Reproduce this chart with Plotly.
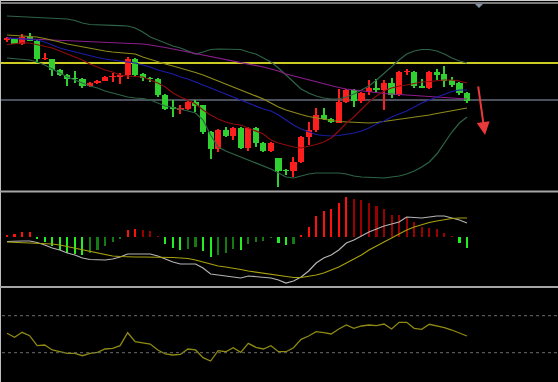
import plotly.graph_objects as go

# ---------------- data ----------------
idx = list(range(1, 63))

opens = [160, 161, 156, 163, 159, 141, 141, 130, 125, 121.5,
         121, 114, 117, 119, 123, 123, 125, 141, 126, 122,
         121, 105, 92, 90, 91, 98, 95, 68, 51, 70,
         64, 72, 52, 72, 57, 49, 42, 29.5, 29, 38,
         63, 70, 85, 81, 77, 98, 110, 99, 108, 112,
         110, 117, 105, 128, 128, 114, 112, 128, 126, 120, 117, 107]
closes = [162, 156, 163, 159, 141, 142, 130, 125, 121, 121,
          114, 117, 119, 123, 124, 125, 141, 125, 122, 121,
          105, 91, 91.5, 92, 98, 94, 68, 51, 70, 64,
          72, 52, 72, 57, 49, 57, 29, 29, 38, 63,
          70, 85, 81, 78, 98, 110, 99, 107, 112, 110,
          117, 105, 128, 129, 114, 112, 128, 125, 119, 115, 107, 99]
highs = [163, 162, 166, 167, 160, 147, 141, 131, 126, 129,
         122, 118, 120, 124, 127, 127, 143, 142, 127, 123,
         122, 106, 100, 95, 99, 100, 95, 69, 71, 73,
         73, 73, 73, 73, 58, 58, 42, 31, 43, 64,
         78, 92, 92, 82, 111, 111, 111, 108, 120, 121,
         120, 122, 129, 131, 129, 121, 129, 131, 134, 123, 118, 108]
lows = [158, 156, 155, 159, 137, 140, 124, 124, 114, 117,
        112, 113, 116, 119, 118, 116, 121, 124, 119, 118,
        103, 90, 83, 86, 90, 88, 66, 41, 48, 63,
        60, 51, 49, 53, 48, 48, 13, 25, 23, 37,
        55, 68, 80, 77, 77, 97, 93, 97, 105, 108,
        90, 102, 104, 125, 112, 112, 111, 120, 113, 113, 105, 97]

boll_upper = [184, 183.7, 183.4, 183, 182.7, 182.4, 182, 181.7, 181, 179.5,
              177, 175.5, 175, 175, 174.7, 174.4, 174, 172, 168, 163,
              160, 157, 154, 152, 149, 146, 148, 150.5, 151, 151,
              151, 150.5, 148, 146, 142, 138, 132, 125, 117, 111,
              107, 104, 102, 101, 101, 103, 106, 110, 114, 120,
              127, 134, 140, 146, 149, 150.5, 150.5, 149, 146, 142, 139, 137]
boll_lower = [142, 141.5, 141, 140, 138, 135, 131, 127, 123, 120,
              117, 114, 112, 109, 107, 105, 103, 102, 101.5, 100,
              97, 94, 92.5, 91, 89, 87, 80, 65, 53, 49,
              46, 43, 40, 37, 34.5, 31, 27, 23, 22, 24,
              26, 27, 27, 27, 27, 26, 24, 23, 22.5, 22,
              22, 23, 24, 26, 29, 33, 38, 46, 57, 68, 77, 83]
ma_blue = [162, 161.5, 161, 160.5, 160, 158, 155, 152, 150, 148,
           146, 144, 142.5, 141, 140, 139, 138, 137, 135, 133,
           130, 128, 126, 123, 121, 118, 115, 112, 109, 106,
           103, 100, 97, 94, 91, 89, 85, 80, 75, 71,
           68, 65.5, 64.5, 64, 64.5, 65.5, 67, 69, 72, 76,
           79, 83, 86, 89, 93, 97, 100, 103, 106, 108.5, 110, 110]
ma_red = [155.5, 156.5, 157, 157, 155.5, 154, 152, 149, 146, 143,
          140, 136, 133, 130, 128, 125, 124, 123.5, 123, 120,
          117, 113, 107, 103, 100, 96, 90, 85, 81, 78,
          76, 75, 72, 69, 66, 60, 57, 55, 53, 52,
          53.5, 55.5, 58, 62, 69, 77, 83, 91, 98, 104,
          109, 112, 114, 115, 116.5, 118, 118.5, 119.5, 120, 120, 119, 117]
ma_purple = [162, 161.7, 161.4, 161, 160.7, 160.4, 160, 159.7, 159.4, 159,
             158.7, 158.4, 158, 157.7, 157.4, 157, 156.7, 156.4, 156, 155,
             154, 152.5, 151, 149.5, 148, 147, 145.5, 144, 142.5, 141,
             139.5, 138, 136.5, 135, 133, 131, 129, 126, 124, 122,
             120, 118, 116, 114, 112.5, 111, 110, 109, 108, 107,
             106.5, 106, 105.5, 105, 104.5, 104, 103.5, 103, 102.5, 102, 101.5, 101]
ma_olive = [165, 164.5, 164, 163.5, 163, 161.5, 160, 158, 156, 154.5,
            153, 151.5, 150, 149, 148, 147.5, 147, 146, 143, 140.5,
            138, 136, 134, 132, 130, 127.5, 125, 122, 119, 116,
            113, 110, 107, 104, 101, 97, 93, 90, 87.5, 85.5,
            83.5, 82, 80.5, 79.5, 78.5, 78, 77.5, 77, 77, 77.5,
            78.5, 79.5, 81, 82, 83, 84, 85, 86.5, 88, 89, 90.5, 92]

level_yellow = 137
level_gray = 100

macd_hist = [0.25, 0.3, 0.5, 0.53, -0.17, -0.47, -0.9, -1.3, -1.57, -1.67,
             -1.83, -1.57, -1.3, -0.9, -0.5, -0.17, 0.7, 0.77, 0.67, 0.57,
             0.07, -0.67, -1.07, -1.33, -1.17, -1.0, -1.43, -2.0, -1.83, -1.6,
             -1.17, -1.27, -0.67, -0.5, -0.43, -0.1, -0.6, -0.83, -0.67, 0.23,
             1.0, 2.07, 2.6, 2.83, 3.43, 4.0, 3.77, 3.67, 3.4, 3.1,
             2.83, 2.23, 2.17, 2.0, 1.5, 1.0, 0.93, 0.83, 0.43, 0.03, -0.57, -1.07]
macd_dif = [-0.45, -0.4, -0.4, -0.4, -0.55, -0.8, -1.1, -1.3, -1.6, -1.8,
            -2.1, -2.25, -2.3, -2.3, -2.2, -2.0, -1.7, -1.7, -1.7, -1.7,
            -1.9, -2.2, -2.5, -2.7, -2.7, -2.7, -3.1, -3.7, -3.8, -3.9,
            -4.0, -4.1, -3.9, -3.95, -4.0, -4.1, -4.3, -4.6, -4.4, -4.0,
            -3.4, -2.6, -2.1, -1.8, -1.3, -0.6, -0.3, 0.1, 0.5, 0.8,
            1.1, 1.3, 1.5, 2.0, 1.95, 1.9, 2.0, 2.1, 2.1, 1.9, 1.7, 1.4]
macd_dea = [-0.5, -0.53, -0.56, -0.6, -0.62, -0.65, -0.7, -0.8, -0.95, -1.1,
            -1.3, -1.45, -1.6, -1.75, -1.9, -1.95, -2.0, -2.0, -2.0, -2.0,
            -2.0, -2.0, -2.05, -2.1, -2.15, -2.3, -2.5, -2.7, -2.9, -3.0,
            -3.1, -3.25, -3.4, -3.5, -3.6, -3.7, -3.85, -3.95, -4.05, -4.05,
            -3.95, -3.8, -3.6, -3.3, -3.0, -2.6, -2.2, -1.8, -1.3, -0.9,
            -0.5, -0.1, 0.3, 0.7, 1.0, 1.25, 1.45, 1.6, 1.75, 1.85, 1.9, 1.9]

osc = [51.5, 45.0, 53.1, 47.6, 31.4, 32.5, 24.4, 21.6, 19.0, 19.0,
       15.1, 19.0, 20.6, 26.0, 27.1, 31.4, 52.4, 37.8, 35.7, 34.1,
       24.4, 17.9, 16.3, 17.4, 26.0, 24.4, 11.9, 6.5, 23.2, 21.6,
       28.1, 20.6, 35.2, 28.8, 26.0, 31.4, 21.6, 21.6, 28.1, 41.7,
       47.1, 54.1, 52.4, 50.3, 58.4, 64.9, 59.6, 63.3, 64.9, 63.8,
       66.5, 58.4, 69.3, 69.3, 59.6, 57.9, 66.1, 63.8, 60.5, 56.8, 52.4, 47.1]
osc_levels = [80, 20]

# ---------------- styling ----------------
UP = "#ff1e1e"
DOWN = "#30d030"
W, H = 558, 382


def py(p):
    return 1 - p / H


fig = go.Figure()

# bollinger / moving averages
for vals, col in [(boll_upper, "#2e6447"), (boll_lower, "#2e6447"),
                  (ma_purple, "#8c1d8c"), (ma_olive, "#8f8a1c"),
                  (ma_blue, "#1c1ca8"), (ma_red, "#8e0c0c")]:
    fig.add_trace(go.Scatter(x=idx, y=vals, mode="lines",
                             line=dict(color=col, width=1.2),
                             hoverinfo="skip", showlegend=False))

# candles
cols = [UP if c >= o else DOWN for o, c in zip(opens, closes)]
fig.add_trace(go.Bar(x=idx, base=lows, y=[h - l for h, l in zip(highs, lows)],
                     width=0.15, marker=dict(color=cols, line=dict(width=0)),
                     showlegend=False, hoverinfo="skip"))
fig.add_trace(go.Bar(x=idx, base=[min(o, c) for o, c in zip(opens, closes)],
                     y=[max(abs(c - o), 0.6) for o, c in zip(opens, closes)],
                     width=0.82, marker=dict(color=cols, line=dict(width=0)),
                     showlegend=False, hoverinfo="skip"))

# MACD histogram
hcols = []
for i, v in enumerate(macd_hist):
    prev = macd_hist[i - 1] if i > 0 else 0
    if v >= 0:
        hcols.append("#ff1010" if v >= prev else "#9a0000")
    else:
        hcols.append("#22ee22" if v <= prev else "#147a14")
fig.add_trace(go.Bar(x=idx, y=macd_hist, width=0.28, yaxis="y2",
                     marker=dict(color=hcols, line=dict(width=0)),
                     showlegend=False, hoverinfo="skip"))
fig.add_trace(go.Scatter(x=idx, y=macd_dif, yaxis="y2", mode="lines",
                         line=dict(color="#b4b4b4", width=1.2),
                         showlegend=False, hoverinfo="skip"))
fig.add_trace(go.Scatter(x=idx, y=macd_dea, yaxis="y2", mode="lines",
                         line=dict(color="#a8a010", width=1.2),
                         showlegend=False, hoverinfo="skip"))

# oscillator
fig.add_trace(go.Scatter(x=idx, y=osc, yaxis="y3", mode="lines",
                         line=dict(color="#8e8a12", width=1.3),
                         showlegend=False, hoverinfo="skip"))

shapes = [
    dict(type="line", xref="paper", yref="paper", x0=0, x1=1, y0=py(0.5), y1=py(0.5),
         line=dict(color="#cfcfcf", width=1)),
    dict(type="line", xref="paper", yref="paper", x0=0, x1=1, y0=py(3), y1=py(3),
         line=dict(color="#7a7a7a", width=2)),
    dict(type="line", xref="paper", yref="paper", x0=0.5 / W, x1=0.5 / W, y0=0, y1=1,
         line=dict(color="#bdbdbd", width=1)),
    dict(type="line", xref="paper", yref="paper", x0=0, x1=1, y0=py(191.5), y1=py(191.5),
         line=dict(color="#a6a6a6", width=2)),
    dict(type="line", xref="paper", yref="paper", x0=0, x1=1, y0=py(287), y1=py(287),
         line=dict(color="#a6a6a6", width=2)),
    dict(type="line", xref="paper", yref="y", x0=0, x1=1, y0=level_yellow, y1=level_yellow,
         line=dict(color="#cccc22", width=2), layer="below"),
    dict(type="line", xref="paper", yref="y", x0=0, x1=1, y0=level_gray, y1=level_gray,
         line=dict(color="#4b515c", width=2), layer="below"),
    dict(type="path", xref="paper", yref="paper",
         path=f"M {475 / W} {py(4)} L {483 / W} {py(4)} L {479 / W} {py(8)} Z",
         fillcolor="#8494a8", line=dict(width=0)),
]
for lv in osc_levels:
    shapes.append(dict(type="line", xref="paper", yref="y3", x0=2 / W, x1=1, y0=lv, y1=lv,
                       line=dict(color="#6c6c6c", width=1, dash="dot")))

# forecast arrow
arrow_from = (63.46, 115)
arrow_to = (64.39, 65)

fig.update_layout(
    width=W, height=H,
    margin=dict(l=0, r=0, t=0, b=0),
    paper_bgcolor="#000000", plot_bgcolor="#000000",
    barmode="overlay", bargap=0,
    showlegend=False,
    xaxis=dict(range=[0.0717, 74.07], visible=False, fixedrange=True),
    yaxis=dict(domain=[py(190), py(5)], range=[10, 195], visible=False),
    yaxis2=dict(domain=[py(286), py(193)], range=[-4.9, 4.4], visible=False, anchor="x"),
    yaxis3=dict(domain=[py(381), py(289)], range=[-25.9, 123.3], visible=False, anchor="x"),
    shapes=shapes,
    annotations=[dict(x=arrow_to[0], y=arrow_to[1], ax=arrow_from[0], ay=arrow_from[1],
                      xref="x", yref="y", axref="x", ayref="y", text="",
                      showarrow=True, arrowhead=2, arrowsize=1.3, arrowwidth=2,
                      arrowcolor="#e83a3a")],
)

fig.write_html(
    "out.html",
    config={"displayModeBar": False},
    post_script="document.body.style.margin='0';document.body.style.padding='0';"
                "document.body.style.background='#000';"
                "document.body.style.overflow='hidden';",
)
